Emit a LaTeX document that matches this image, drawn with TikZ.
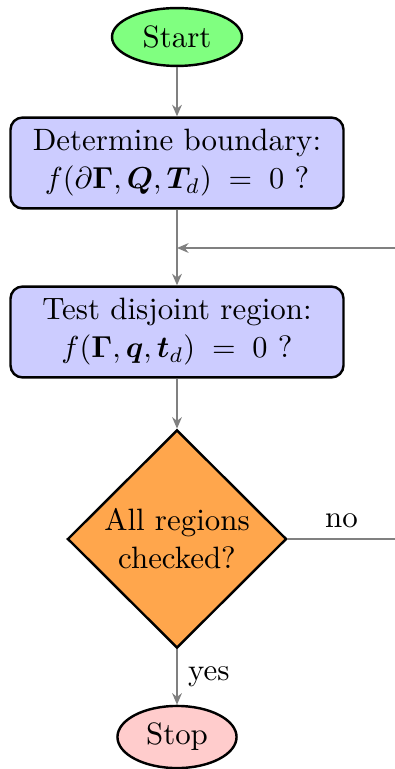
\documentclass[tikz,border=0pt]{standalone}
\usepackage{amsmath,amssymb}
\usepackage{bm}
\usetikzlibrary{positioning, arrows.meta, shapes.geometric}

\begin{document}
\begin{tikzpicture}[
    x=0.33pt, y=-0.33pt,
    every node/.style={font=\fontsize{10.2pt}{12.5pt}\selectfont},
    startstop/.style={ellipse, draw, thick, inner sep=0pt},
    process/.style={rectangle, draw, thick, rounded corners=4pt, fill=blue!20,
                    align=center, inner sep=0pt,
                    minimum width=109.9pt, minimum height=30pt},
    decision/.style={diamond, draw, thick, fill=orange!70, align=center,
                     inner sep=0pt, minimum width=72.3pt, minimum height=72pt},
    flow/.style={draw=gray, line width=0.65pt,
                 -{Stealth[length=3.8pt, width=3.2pt]}},
    plain/.style={draw=gray, line width=0.65pt},
]
\useasboundingbox (0,0) rectangle (395,769);

% --- Knoten -----------------------------------------------------------
\node[startstop, fill=green!50, minimum width=42.9pt, minimum height=19.1pt]
    (start) at (177,37) {Start};
\node[process] (bound) at (177,163)
    {Determine boundary:\\$f(\partial\bm{\Gamma},\bm{Q},\bm{T}_d)\;=\;0$ ?};
\node[process] (region) at (177,332)
    {Test disjoint region:\\$f(\bm{\Gamma},\bm{q},\bm{t}_d)\;=\;0$ ?};
\node[decision] (checked) at (177,539) {All regions\\checked?};
\node[startstop, fill=red!20, minimum width=39.3pt, minimum height=20.5pt]
    (stop) at (177,737) {Stop};

% Hilfspunkte fuer die Rueckfuehrung (rechter Rand)
\coordinate (join) at (177,248);
\coordinate (nofar) at (395,539);
\coordinate (backin) at (395,248);

% --- Verbindungen -----------------------------------------------------
\draw[flow] (start) -- (bound);
\draw[flow] (bound) -- (region);
\draw[flow] (region) -- (checked);
\draw[flow] (checked) -- (stop) node[midway, right] {yes};
\draw[plain] (checked) -- (nofar) node[midway, above] {no};
\draw[flow] (backin) -- (join);

\end{tikzpicture}
\end{document}
